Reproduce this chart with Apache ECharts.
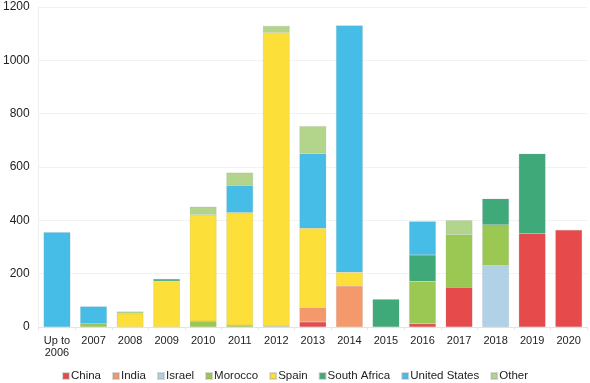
<!DOCTYPE html>
<html><head><meta charset="utf-8">
<script src="https://cdn.jsdelivr.net/npm/echarts@6/dist/echarts.min.js"></script>
<style>html,body{margin:0;padding:0;background:#fff}#c{width:590px;height:383px}</style>
</head><body><div id="c"></div>
<script>
const categories = ['Up to\n2006','2007','2008','2009','2010','2011','2012','2013','2014','2015','2016','2017','2018','2019','2020'];
const china        = [0,0,0,0,0,0,0,19,0,0,12,149,0,350,364];
const india        = [0,0,0,0,0,0,0,54,154,0,0,0,0,0,0];
const israel       = [0,0,0,0,0,0,0,0,0,0,0,0,231,0,0];
const morocco      = [0,12,0,0,22,7,3,0,0,0,159,197,152,0,0];
const spain        = [0,0,50,172,399,422,1101,297,51,0,0,0,0,0,0];
const southAfrica  = [0,0,0,8,0,0,0,0,0,104,99,0,98,300,0];
const unitedStates = [355,65,0,0,0,102,0,280,926,0,126,0,0,0,0];
const other        = [0,0,8,0,30,48,25,103,0,0,0,54,0,0,0];
const yTicks = [0,200,400,600,800,1000,1200];

const FONT = '"Liberation Sans", Arial, Helvetica, sans-serif';
const seriesDefs = [
  ['China', china, '#e64a4b'],
  ['India', india, '#f3996b'],
  ['Israel', israel, '#b1d2e6'],
  ['Morocco', morocco, '#9bc853'],
  ['Spain', spain, '#fddf3a'],
  ['South Africa', southAfrica, '#40a97a'],
  ['United States', unitedStates, '#46bde6'],
  ['Other', other, '#b3d48b']
];
const chart = echarts.init(document.getElementById('c'), null, {renderer:'canvas'});
chart.setOption({
  animation:false,
  textStyle:{fontFamily:FONT},
  grid:{left:37,right:3,top:7,bottom:56,containLabel:false},
  legend:{top:365,left:'center',itemWidth:6,itemHeight:6,itemGap:11,icon:'rect',
    textStyle:{fontSize:11.5,color:'#222',fontFamily:FONT,padding:[0,0,0,-3]},
    data:seriesDefs.map(s=>s[0])},
  xAxis:{type:'category',data:categories,
    axisLine:{show:true,lineStyle:{color:'#e4e4e4'}},
    axisTick:{show:true,length:3,lineStyle:{color:'#e4e4e4'}},
    axisLabel:{fontSize:11,color:'#222',margin:8,lineHeight:12,interval:0,fontFamily:FONT}},
  yAxis:{type:'value',min:0,max:1200,interval:200,
    axisLine:{show:true,lineStyle:{color:'#eee'}},
    axisTick:{show:false},
    splitLine:{lineStyle:{color:'#f2f2f2'}},
    axisLabel:{fontSize:12,color:'#222',margin:9,fontFamily:FONT,
      formatter:v=>yTicks.includes(v)?String(v):''}},
  series:seriesDefs.map(([name,data,color])=>({
    name,type:'bar',stack:'total',data:data.map(v=>v===0?null:v),barCategoryGap:'27%',
    itemStyle:{color,borderColor:'rgba(150,150,150,0.35)',borderWidth:0.5}
  }))
});
</script></body></html>
